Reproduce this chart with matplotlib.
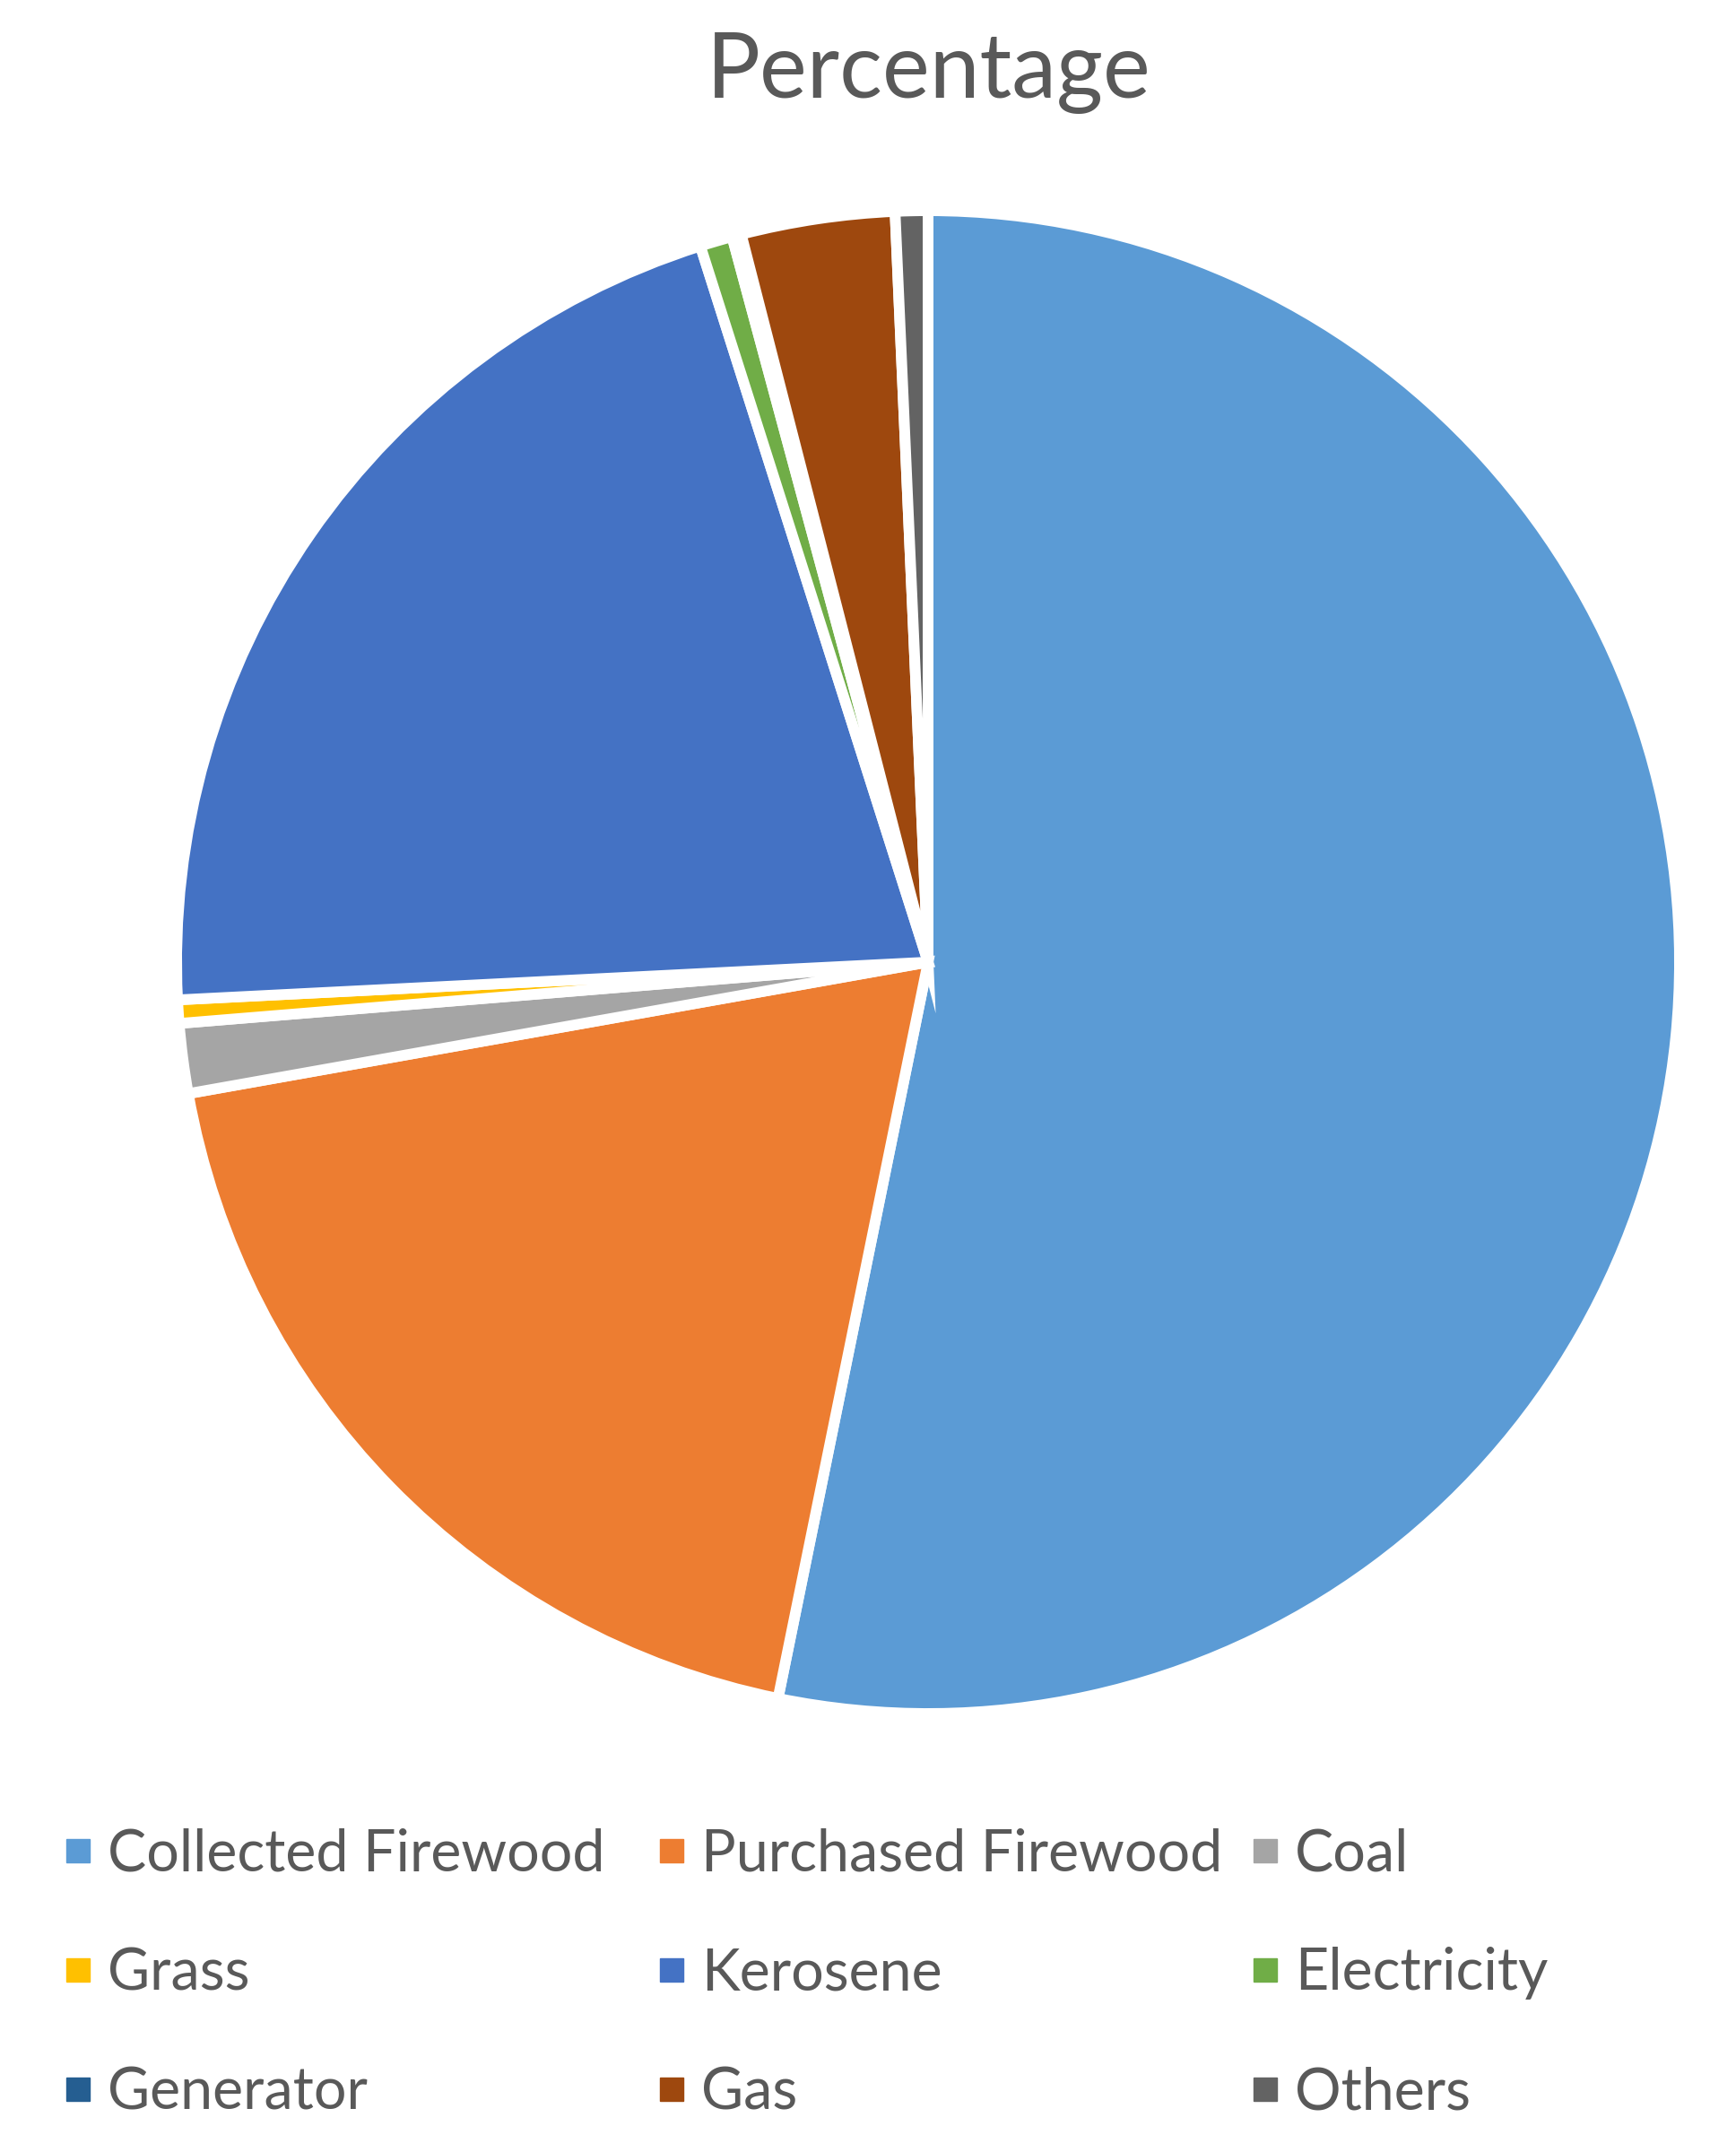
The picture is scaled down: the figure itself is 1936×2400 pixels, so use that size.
"""Household cooking fuel shares -- pie chart with Excel-style legend.

Writes out.png (1936x2400).
"""

import matplotlib
matplotlib.use("Agg")
import matplotlib.pyplot as plt
from matplotlib.lines import Line2D

# data (percent of households)
labels = ["Collected Firewood", "Purchased Firewood", "Coal",
          "Grass", "Kerosene", "Electricity",
          "Generator", "Gas", "Others"]
shares = [53.2, 19.0, 1.5, 0.5, 20.9, 0.7, 0.2, 3.3, 0.7]
colors = ["#5B9BD5", "#ED7D31", "#A5A5A5", "#FFC000", "#4472C4",
          "#70AD47", "#255E91", "#9E480E", "#636363"]

TEXT = "#595959"
plt.rcParams["font.family"] = ["Lato", "DejaVu Sans"]

W, H, DPI = 1936, 2400, 100
fig = plt.figure(figsize=(W / DPI, H / DPI), dpi=DPI)

# pie axes: centre (1035, 1073) px, radius ~838 px incl. white border
cx, cy, r = 1035, 1073, 838
ax = fig.add_axes([(cx - r) / W, (H - cy - r) / H, 2 * r / W, 2 * r / H])
ax.pie(shares, colors=colors, startangle=90, counterclock=False,
       wedgeprops=dict(edgecolor="white", linewidth=8.6))
ax.set_xlim(-1, 1)
ax.set_ylim(-1, 1)
ax.set_aspect("equal")
ax.axis("off")

fig.text(0.5349, (H - 109) / H, "Percentage", ha="center", va="baseline",
         fontsize=72, color=TEXT)

# legend: Excel lays it out row-major in 3 equal-width columns
fs = 46.5
col_centres = [86.5, 749, 1411]
for j, xc in enumerate(col_centres):
    handles = [Line2D([], [], marker="s", linestyle="none", markersize=19.4,
                      markerfacecolor=c, markeredgecolor=c)
               for c in colors[j::3]]
    leg = fig.legend(handles, labels[j::3], loc="center left",
                     bbox_to_anchor=((xc - 19) / W, (H - 2201) / H),
                     frameon=False, fontsize=fs, handlelength=0.59,
                     handletextpad=0.22, borderpad=0, borderaxespad=0,
                     labelspacing=1.14, labelcolor=TEXT)

fig.savefig("out.png", dpi=DPI)
plt.close(fig)
